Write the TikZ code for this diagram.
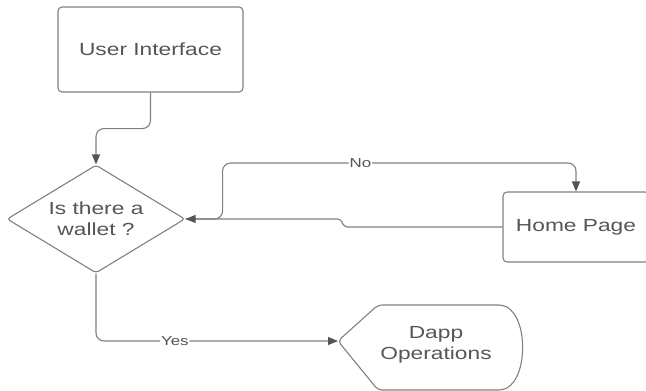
\documentclass[tikz,border=0pt]{standalone}
\usepackage{fontspec}
\setmainfont{Liberation Sans}[FakeStretch=1.3]
\usetikzlibrary{arrows.meta,shapes.geometric}
\definecolor{linegray}{RGB}{128,128,128}
\definecolor{textgray}{RGB}{85,85,85}

\begin{document}
\begin{tikzpicture}[>={Triangle[length=10pt,width=8pt,color=textgray]},x=1pt,y=-1pt,
	box/.style={draw=linegray,line width=1.1pt,rounded corners=4pt,text=textgray,font=\fontsize{17.5}{21}\selectfont,align=center},
	flow/.style={draw=linegray,line width=1.1pt,rounded corners=8pt},
	lbl/.style={fill=white,inner sep=1pt,text=textgray,font=\fontsize{13}{15}\selectfont}]
	\useasboundingbox (0,0) rectangle (646,391);
	\node[box,minimum width=185pt,minimum height=85pt] (ui) at (150.5,49.5) {User Interface};
	\node[box,diamond,aspect=1.65,inner sep=0pt,minimum width=178pt,minimum height=108pt,rounded corners=3pt] (wallet) at (96,219) {Is there a\\wallet ?};
	\node[box,minimum width=146pt,minimum height=70pt] (home) at (576,227) {Home Page};
	\node[box,draw=none] (dapp) at (436,345) {Dapp\\Operations};
	\coordinate (dapptip) at (338,341);
	% display shape round the dapp text
	\draw[linegray,line width=1.1pt,rounded corners=4pt] (dapptip) -- (378,305) -- (503,305) .. controls (528,318) and (528,377) .. (503,390) -- (378,390) -- cycle;
	
	\draw[flow,->] (ui.south) -- ++(0,36) -| (wallet.north);
	\path (wallet.east) ++(37,0) coordinate (noturn);
	\draw[flow,->] (wallet.east) -- (noturn) -- (noturn |- 0,163) -- node[lbl,pos=0.39] {No} (home.north |- 0,163) -- (home.north);
	\draw[flow,->,rounded corners=3pt] (home.west) -- ++(-158,0) -- ++(-4,-8) -- (wallet.east);
	\draw[flow,->] (wallet.south) |- node[lbl,pos=0.663] {Yes} (dapptip);
\end{tikzpicture}
\end{document}
